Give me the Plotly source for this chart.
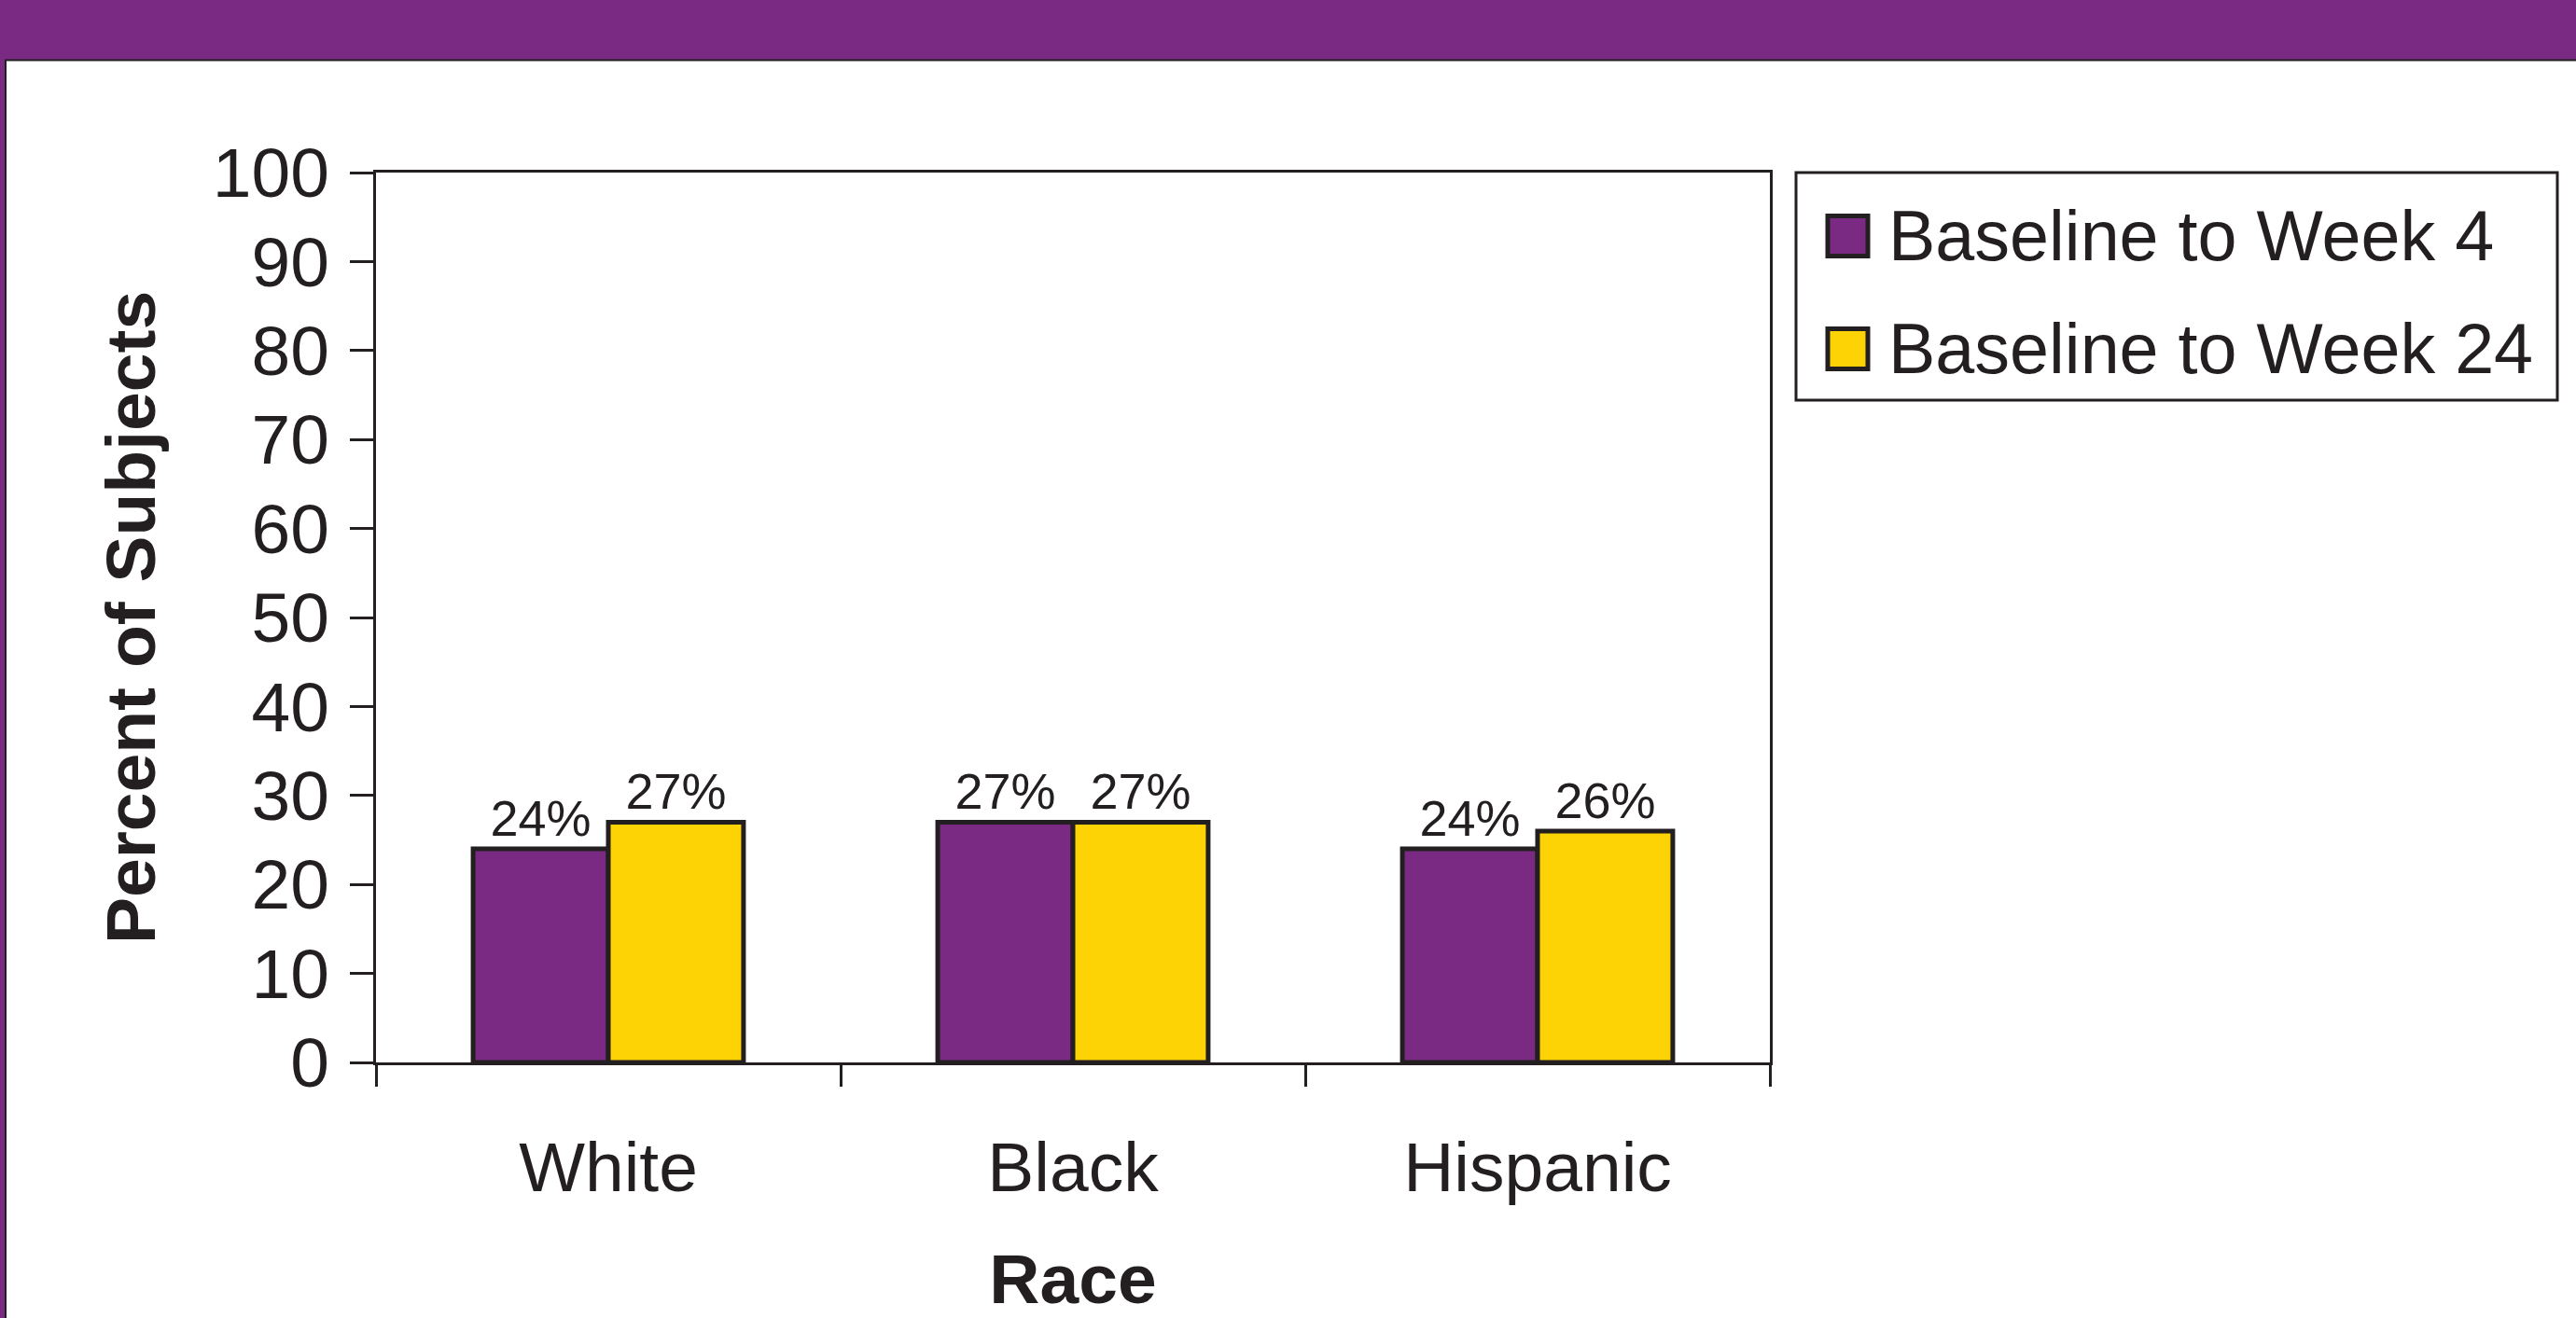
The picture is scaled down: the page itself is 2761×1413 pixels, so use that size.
import plotly.graph_objects as go

# ---- data ----
categories = ["White", "Black", "Hispanic"]
series_names = ["Baseline to Week 4", "Baseline to Week 24"]
week4_values = [24, 27, 24]
week24_values = [27, 27, 26]
y_tick_values = [0, 10, 20, 30, 40, 50, 60, 70, 80, 90, 100]

# ---- style ----
W, H = 2761, 1413
PL, PR, PT, PB = 403, 1897, 185, 1139  # plot area in pixels
PURPLE = "#7B2A83"
YELLOW = "#FDD306"
DARK = "#231F20"
FONT = "Liberation Sans, Arial, sans-serif"


def px_x(p):
    return (p - PL) / (PR - PL)


def px_y(p):
    return (PB - p) / (PB - PT)


fig = go.Figure()
for name, vals, col in [(series_names[0], week4_values, PURPLE),
                        (series_names[1], week24_values, YELLOW)]:
    fig.add_trace(go.Bar(
        x=categories, y=vals, name=name,
        marker=dict(color=col, line=dict(color=DARK, width=5)),
        texttemplate="%{y}%", textposition="outside",
        textfont=dict(family=FONT, size=54, color=DARK),
        cliponaxis=False, showlegend=False,
    ))

shapes = []
# top purple banner
shapes.append(dict(type="rect", xref="paper", yref="paper",
                   x0=px_x(0), x1=px_x(W), y0=px_y(0), y1=px_y(64),
                   fillcolor=PURPLE, line=dict(width=0), layer="below"))
shapes.append(dict(type="line", xref="paper", yref="paper",
                   x0=px_x(5), x1=px_x(W), y0=px_y(64.5), y1=px_y(64.5),
                   line=dict(color=DARK, width=2)))
# left purple strip
shapes.append(dict(type="rect", xref="paper", yref="paper",
                   x0=px_x(0), x1=px_x(5), y0=px_y(64), y1=px_y(H),
                   fillcolor=PURPLE, line=dict(width=0), layer="below"))
shapes.append(dict(type="line", xref="paper", yref="paper",
                   x0=px_x(6), x1=px_x(6), y0=px_y(64), y1=px_y(H),
                   line=dict(color=DARK, width=2)))
# legend box
shapes.append(dict(type="rect", xref="paper", yref="paper",
                   x0=px_x(1925), x1=px_x(2741), y0=px_y(185), y1=px_y(429),
                   fillcolor="white", line=dict(color=DARK, width=3)))
annotations = []
row_centers = [253, 374]
for name, col, cy in zip(series_names, [PURPLE, YELLOW], row_centers):
    shapes.append(dict(type="rect", xref="paper", yref="paper",
                       x0=px_x(1959), x1=px_x(2002), y0=px_y(cy - 21.5), y1=px_y(cy + 21.5),
                       fillcolor=col, line=dict(color=DARK, width=5)))
    annotations.append(dict(xref="paper", yref="paper", x=px_x(2022), y=px_y(cy),
                            xanchor="left", yanchor="middle", showarrow=False,
                            text=name, font=dict(family=FONT, size=75.5, color=DARK)))

fig.update_layout(
    width=W, height=H,
    margin=dict(l=PL, r=W - PR, t=PT, b=H - PB, autoexpand=False),
    paper_bgcolor="white", plot_bgcolor="white",
    barmode="group", bargap=0.418, bargroupgap=0,
    font=dict(family=FONT, color=DARK),
    shapes=shapes, annotations=annotations,
    showlegend=False,
)
fig.update_xaxes(
    type="category", tickson="boundaries", ticks="outside", ticklen=23,
    tickwidth=3, tickcolor=DARK, showline=True, linewidth=3, linecolor=DARK,
    mirror=True, showgrid=False, ticklabelstandoff=45,
    tickfont=dict(family=FONT, size=75, color=DARK),
    title=dict(text="<b>Race</b>", font=dict(family=FONT, size=75, color=DARK), standoff=55),
    automargin=False,
)
fig.update_yaxes(
    range=[0, 100], tickmode="array", tickvals=y_tick_values,
    ticks="outside", ticklen=25, tickwidth=3, tickcolor=DARK,
    showline=True, linewidth=3, linecolor=DARK, mirror=True,
    showgrid=False, zeroline=False, ticklabelstandoff=7,
    tickfont=dict(family=FONT, size=75, color=DARK),
    title=dict(text="<b>Percent of Subjects</b>", font=dict(family=FONT, size=75, color=DARK), standoff=37),
    automargin=False,
)

fig.write_html("out.html", config={"displayModeBar": False},
               post_script="document.body.style.margin='0';document.body.style.overflow='hidden';")
